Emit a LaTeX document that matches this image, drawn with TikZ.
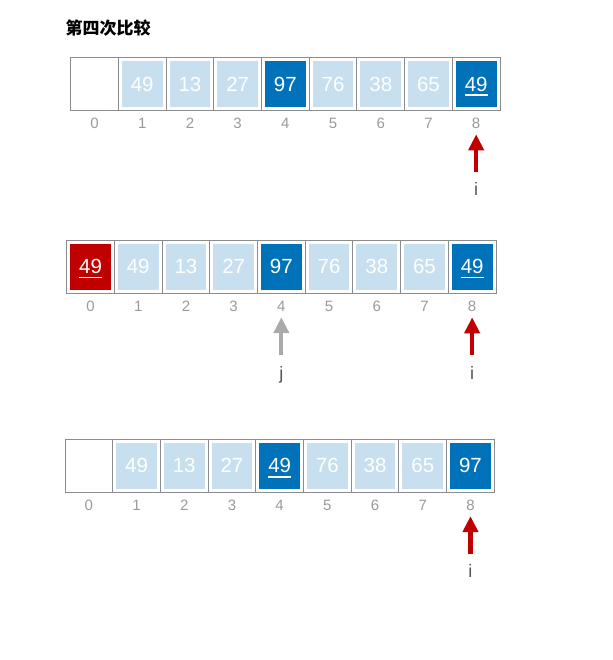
\documentclass[tikz,border=0pt]{standalone}
\usepackage{fontspec}
\setmainfont{Liberation Sans}
\newfontfamily\cjk{Noto Sans CJK SC}
\usetikzlibrary{arrows.meta}
\definecolor{cellblue}{HTML}{C7DFEE}
\definecolor{darkblue}{HTML}{0072B9}
\definecolor{darkred}{HTML}{C00000}
\definecolor{framegray}{HTML}{8C8C8C}
\definecolor{idxgray}{HTML}{9A9A9A}
\definecolor{ptrgray}{HTML}{AAAAAA}
\definecolor{ptrtext}{HTML}{555555}
\newlength\numwd
\newcommand\ulnum[1]{\settowidth\numwd{#1}\rlap{#1}\smash{\rule[-4.7pt]{\numwd}{1.3pt}}}
\tikzset{
  cell/.style={draw=framegray, line width=0.9pt, fill=white, minimum width=47.7pt,
    minimum height=53pt, inner sep=0pt, text=white, font=\fontsize{20.5}{24}\selectfont,
    path picture={\fill[#1] ([shift={(3.5pt,3.5pt)}]path picture bounding box.south west)
      rectangle ([shift={(-3.5pt,-3.5pt)}]path picture bounding box.north east);}},
  idx/.style={text=idxgray, font=\fontsize{15}{18}\selectfont, inner sep=0pt},
  ptr/.style={text=ptrtext, font=\fontsize{18}{21}\selectfont, inner sep=0pt,
    text height=13pt, text depth=4pt, anchor=north},
  ptrarrow/.style={draw=#1, line width=4.2pt, -{Triangle[width=15pt,length=16pt]},
    shorten <=10.6pt, shorten >=5.3pt}
}
\begin{document}
\begin{tikzpicture}[x=1pt,y=-1pt]
\useasboundingbox (0,0) rectangle (612,660);
\node[anchor=west, font=\cjk\bfseries\fontsize{17}{20}\selectfont] (title) at (62,28) {第四次比较};
%
% first row
\foreach \v/\col/\s [count=\n from 0] in {/white/n,49/cellblue/n,13/cellblue/n,27/cellblue/n,
    97/darkblue/n,76/cellblue/n,38/cellblue/n,65/cellblue/n,49/darkblue/y}{
  \node[cell=\col] (a\n) at (70.7+47.7*\n+23.85,84) {\if y\s\ulnum{\v}\else\v\fi};
  \node[idx] (ai\n) at (70.7+47.7*\n+23.85,123.5) {\n};
}
\node[ptr] (i1) at (ai8 |- 0,182.8) {i};
\draw[ptrarrow=darkred] (i1) -- (ai8);
%
% second row
\foreach \v/\col/\s [count=\n from 0] in {49/darkred/y,49/cellblue/n,13/cellblue/n,27/cellblue/n,
    97/darkblue/n,76/cellblue/n,38/cellblue/n,65/cellblue/n,49/darkblue/y}{
  \node[cell=\col] (b\n) at (66.7+47.7*\n+23.85,266.5) {\if y\s\ulnum{\v}\else\v\fi};
  \node[idx] (bi\n) at (66.7+47.7*\n+23.85,306.5) {\n};
}
\node[ptr] (j2) at (bi4 |- 0,365.8) {j};
\node[ptr] (i2) at (bi8 |- 0,365.8) {i};
\draw[ptrarrow=ptrgray] (j2) -- (bi4);
\draw[ptrarrow=darkred] (i2) -- (bi8);
%
% third row
\foreach \v/\col/\s [count=\n from 0] in {/white/n,49/cellblue/n,13/cellblue/n,27/cellblue/n,
    49/darkblue/y,76/cellblue/n,38/cellblue/n,65/cellblue/n,97/darkblue/n}{
  \node[cell=\col] (c\n) at (65+47.7*\n+23.85,465.8) {\if y\s\ulnum{\v}\else\v\fi};
  \node[idx] (ci\n) at (65+47.7*\n+23.85,505.3) {\n};
}
\node[ptr] (i3) at (ci8 |- 0,564.6) {i};
\draw[ptrarrow=darkred] (i3) -- (ci8);
\end{tikzpicture}
\end{document}
